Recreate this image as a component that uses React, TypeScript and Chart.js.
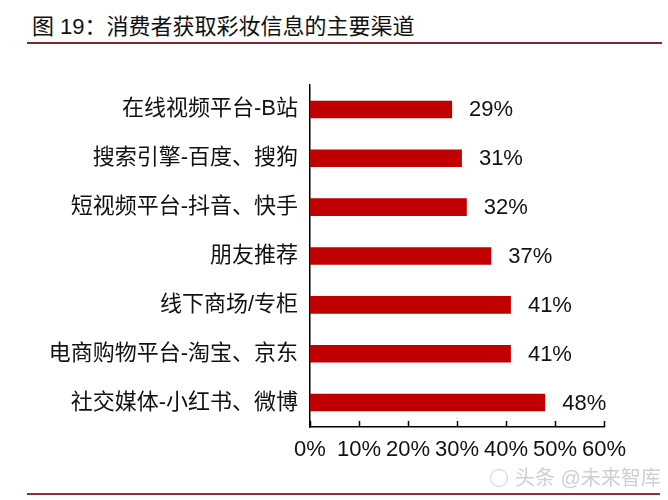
import React, { useEffect, useRef } from "react";
import { Chart, registerables } from "chart.js";

Chart.register(...registerables);

const categories = [
  "在线视频平台-B站",
  "搜索引擎-百度、搜狗",
  "短视频平台-抖音、快手",
  "朋友推荐",
  "线下商场/专柜",
  "电商购物平台-淘宝、京东",
  "社交媒体-小红书、微博",
];
const values = [29, 31, 32, 37, 41, 41, 48];
const xTicks = [0, 10, 20, 30, 40, 50, 60];
const title = "图 19：消费者获取彩妆信息的主要渠道";
const watermark = "头条 @未来智库";

const FONT = '"Liberation Sans", Arial, "Noto Sans CJK SC", sans-serif';

export default function App() {
  const ref = useRef<HTMLCanvasElement>(null);

  useEffect(() => {
    const canvas = ref.current;
    if (!canvas) return;

    const extras = {
      id: "extras",
      afterDatasetsDraw(chart: any) {
        const ctx = chart.ctx;
        const meta = chart.getDatasetMeta(0);
        ctx.save();
        ctx.font = `22px ${FONT}`;
        ctx.fillStyle = "#111";
        ctx.textAlign = "left";
        ctx.textBaseline = "middle";
        meta.data.forEach((bar: any, i: number) => {
          ctx.fillText(`${values[i]}%`, bar.x + 17, bar.y + 1);
        });
        // x tick marks pointing up
        const xs = chart.scales.x;
        const bottom = chart.chartArea.bottom;
        ctx.strokeStyle = "#000";
        ctx.lineWidth = 1.5;
        xTicks.forEach((t) => {
          const px = Math.round(xs.getPixelForValue(t)) + 0.5;
          ctx.beginPath();
          ctx.moveTo(px, bottom - 6);
          ctx.lineTo(px, bottom);
          ctx.stroke();
        });
        ctx.restore();
      },
    };

    const chart = new Chart(canvas, {
      type: "bar",
      data: {
        labels: categories,
        datasets: [
          {
            data: values,
            backgroundColor: "#c00000",
            borderWidth: 0,
            barPercentage: 0.36,
            categoryPercentage: 1,
          },
        ],
      },
      options: {
        indexAxis: "y",
        animation: false,
        responsive: false,
        maintainAspectRatio: false,
        devicePixelRatio: 1,
        layout: { padding: { top: 85, right: 64, left: 0, bottom: 0 } },
        plugins: {
          legend: { display: false },
          tooltip: { enabled: false },
          title: { display: false },
        },
        scales: {
          x: {
            min: 0,
            max: 60,
            afterBuildTicks: (scale: any) => {
              scale.ticks = xTicks.map((v) => ({ value: v }));
            },
            afterFit: (scale: any) => {
              scale.height = 500 - 427;
            },
            grid: { display: false, drawTicks: false },
            border: { display: true, color: "#000", width: 1.5 },
            ticks: {
              padding: 10,
              color: "#111",
              font: { size: 22, family: FONT },
              callback: (v: any) => `${v}%`,
              maxRotation: 0,
              autoSkip: false,
            },
          },
          y: {
            afterFit: (scale: any) => {
              scale.width = 310;
            },
            grid: { display: false, drawTicks: false },
            border: { display: true, color: "#000", width: 1.5 },
            ticks: {
              padding: 12,
              color: "#111",
              font: { size: 22, family: FONT },
              autoSkip: false,
            },
          },
        },
      },
      plugins: [extras],
    });
    return () => chart.destroy();
  }, []);

  return (
    <div
      style={{
        position: "fixed",
        left: 0,
        top: 0,
        width: 668,
        height: 500,
        background: "#fff",
        overflow: "hidden",
      }}
    >
      <div
        style={{
          position: "absolute",
          left: 32,
          top: 13,
          fontSize: 22,
          lineHeight: "28px",
          fontFamily: FONT,
          color: "#111",
          whiteSpace: "nowrap",
        }}
      >
        {title}
      </div>
      <div
        style={{
          position: "absolute",
          left: 27,
          top: 42,
          width: 635,
          height: 2,
          background: "#7d2a2e",
        }}
      />
      <canvas
        ref={ref}
        width={668}
        height={500}
        style={{ position: "absolute", left: 0, top: 0, width: 668, height: 500 }}
      />
      <div
        style={{
          position: "absolute",
          left: 490,
          top: 469,
          width: 16,
          height: 16,
          borderRadius: "50%",
          border: "1.5px solid #d0d0d0",
        }}
      />
      <div
        style={{
          position: "absolute",
          left: 515,
          top: 465,
          fontSize: 20,
          lineHeight: "26px",
          fontFamily: FONT,
          color: "#cfcfcf",
          whiteSpace: "nowrap",
        }}
      >
        {watermark}
      </div>
      <div
        style={{
          position: "absolute",
          left: 27,
          top: 493,
          width: 633,
          height: 2,
          background: "#9b2b2e",
        }}
      />
    </div>
  );
}
